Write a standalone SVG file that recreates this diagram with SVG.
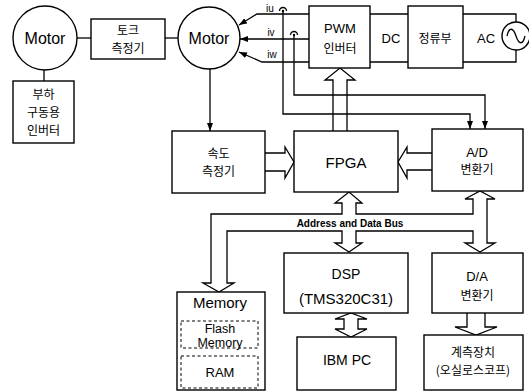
<svg xmlns="http://www.w3.org/2000/svg" width="529" height="392" viewBox="0 0 529 392">
<defs>
<style>
.box{fill:#fff;stroke:#000;stroke-width:1.4}
.dbox{fill:none;stroke:#000;stroke-width:1;stroke-dasharray:3,2.5}
.ln{fill:none;stroke:#000;stroke-width:1.3}
.bus{fill:none;stroke:#000;stroke-width:1.3;stroke-linejoin:miter}
.t{font-family:"Liberation Sans","Noto Sans CJK KR",sans-serif;text-anchor:middle;fill:#000}
.k{font-family:"Noto Sans CJK KR","Liberation Sans",sans-serif;text-anchor:middle;fill:#000;font-size:12px}
</style>
<marker id="ah" markerUnits="userSpaceOnUse" markerWidth="8" markerHeight="6" refX="8" refY="3" orient="auto">
<path d="M0,0 L8,3 L0,6 Z" fill="#000"/>
</marker>
</defs>
<rect width="529" height="392" fill="#fff"/>

<g id="connectors">
<path class="bus" style="fill:#fff" d="M203,283 L211,283 L211,214 L342,214 L342,203 L335,203 L349,192 L362,203 L356,203 L356,214 L473,214 L473,199 L465,199 L480,191 L495,199 L487,199 L487,243 L495,243 L480,252 L465,243 L473,243 L473,231 L356,231 L356,243 L362,243 L349,252 L335,243 L342,243 L342,231 L227,231 L227,283 L234,283 L219,292 Z"/>
<text class="t" x="350" y="226.5" font-size="10" font-weight="bold">Address and Data Bus</text>
<path class="bus" d="M333,131 L333,80 L325,80 L340,68 L355,80 L347,80 L347,131"/>
<path class="bus" d="M265,153 L285,153 L285,147 L294,162 L285,178 L285,171 L265,171"/>
<path class="bus" d="M432,153 L407,153 L407,147 L398,162 L407,178 L407,170 L432,170"/>
<path class="bus" style="fill:#fff" d="M344,319 L335,319 L351,313 L367,319 L358,319 L358,329 L367,329 L351,337 L335,329 L344,329 Z"/>
<path class="bus" d="M467,313 L467,327 L455,327 L476,335 L497,327 L485,327 L485,313"/>
<line class="ln" x1="77" y1="38" x2="91" y2="38"/>
<line class="ln" x1="165" y1="38" x2="178" y2="38"/>
<line class="ln" x1="44" y1="70" x2="44" y2="81"/>
<line class="ln" x1="210" y1="69" x2="210" y2="131" marker-end="url(#ah)"/>
<line class="ln" x1="370" y1="14" x2="408" y2="14"/>
<line class="ln" x1="370" y1="62" x2="408" y2="62"/>
<polyline class="ln" points="463,14 516,14 516,22"/>
<polyline class="ln" points="463,62 516,62 516,50"/>
<polyline class="ln" points="309,14 257,14 239,25" marker-end="url(#ah)"/>
<line class="ln" x1="309" y1="39" x2="240" y2="39" marker-end="url(#ah)"/>
<polyline class="ln" points="309,62 262,62 239,52" marker-end="url(#ah)"/>
<text class="t" x="270" y="12" font-size="10">iu</text>
<text class="t" x="271" y="36" font-size="10">iv</text>
<text class="t" x="272" y="58" font-size="10">iw</text>
<path class="ln" d="M279.5,11 A3.5,3.5 0 0 1 286.5,11"/>
<circle cx="283" cy="11" r="1.2" fill="#000"/>
<path class="ln" d="M290.5,35 A3.5,3.5 0 0 1 297.5,35"/>
<circle cx="294" cy="35" r="1.2" fill="#000"/>
<polyline class="ln" points="283,11 283,114 470,114 470,129" marker-end="url(#ah)"/>
<polyline class="ln" points="294,35 294,95 485,95 485,129" marker-end="url(#ah)"/>
</g>

<g id="motor-load">
<circle class="box" cx="45" cy="38" r="32"/>
<text class="t" x="45" y="44" font-size="16">Motor</text>
</g>
<g id="torque-meter">
<rect class="box" x="91" y="19" width="74" height="40"/>
<text class="k" x="128" y="35">토크</text>
<text class="k" x="128" y="53">측정기</text>
</g>
<g id="motor">
<circle class="box" cx="209" cy="38" r="31"/>
<text class="t" x="209" y="44" font-size="16">Motor</text>
</g>
<g id="load-inverter">
<rect class="box" x="13" y="81" width="61" height="62"/>
<text class="k" x="43.5" y="99">부하</text>
<text class="k" x="43.5" y="117">구동용</text>
<text class="k" x="43.5" y="135">인버터</text>
</g>
<g id="pwm-inverter">
<rect class="box" x="309" y="6" width="61" height="62"/>
<text class="t" x="340" y="33" font-size="13">PWM</text>
<text class="k" x="340" y="52.5">인버터</text>
</g>
<g id="dc-label">
<text class="t" x="391" y="43" font-size="13">DC</text>
</g>
<g id="rectifier">
<rect class="box" x="408" y="6" width="55" height="62"/>
<text class="k" x="435" y="42.5">정류부</text>
</g>
<g id="ac-source">
<text class="t" x="486" y="43" font-size="13">AC</text>
<circle class="box" cx="516" cy="36" r="14"/>
<path class="ln" d="M507,36 C509,27 513,27 516,36 S523,45 525,36"/>
</g>
<g id="speed-meter">
<rect class="box" x="172" y="131" width="93" height="62"/>
<text class="k" x="218.5" y="158">속도</text>
<text class="k" x="218.5" y="176">측정기</text>
</g>
<g id="fpga">
<rect class="box" x="294" y="131" width="104" height="61"/>
<text class="t" x="346" y="167.5" font-size="15">FPGA</text>
</g>
<g id="ad-converter">
<rect class="box" x="432" y="129" width="91" height="62"/>
<text class="t" x="477" y="157" font-size="13">A/D</text>
<text class="k" x="477" y="174">변환기</text>
</g>
<g id="dsp">
<rect class="box" x="284" y="253" width="124" height="60"/>
<text class="t" x="346" y="279" font-size="14">DSP</text>
<text class="t" x="346" y="304" font-size="15">(TMS320C31)</text>
</g>
<g id="da-converter">
<rect class="box" x="432" y="253" width="91" height="60"/>
<text class="t" x="477" y="281" font-size="13">D/A</text>
<text class="k" x="477" y="299.5">변환기</text>
</g>
<g id="ibm-pc">
<rect class="box" x="297" y="337" width="99" height="53"/>
<text class="t" x="347" y="365" font-size="14">IBM PC</text>
</g>
<g id="measurement">
<rect class="box" x="424" y="335" width="99" height="55"/>
<text class="k" x="473" y="357">계측장치</text>
<text class="k" x="473" y="375">(오실로스코프)</text>
</g>
<g id="memory">
<rect class="box" x="177" y="292" width="88" height="98"/>
<text class="t" x="220" y="308" font-size="15">Memory</text>
<rect class="dbox" x="181" y="321" width="77" height="27"/>
<text class="t" x="220" y="332.5" font-size="12.5">Flash</text>
<text class="t" x="220" y="346.5" font-size="12.5">Memory</text>
<rect class="dbox" x="181" y="356" width="77" height="32"/>
<text class="t" x="220" y="377" font-size="13">RAM</text>
</g>
</svg>
